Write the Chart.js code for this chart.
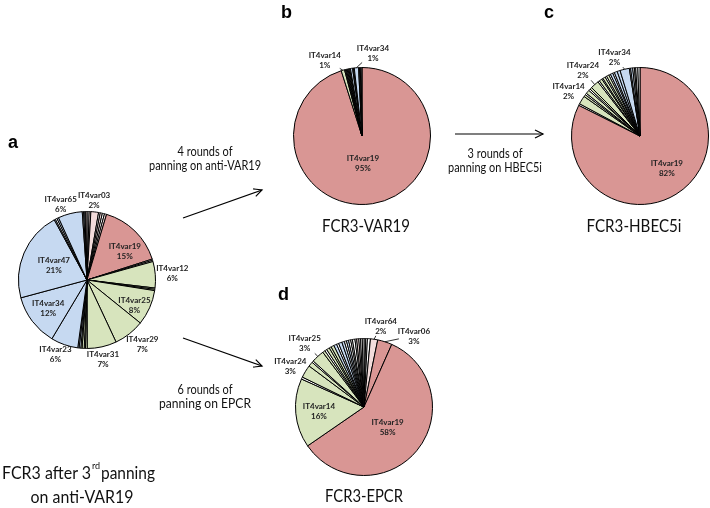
<!DOCTYPE html>
<html><head><meta charset="utf-8">
<script src="https://cdn.jsdelivr.net/npm/chart.js@4.4.1/dist/chart.umd.min.js"></script>
<style>
html,body{margin:0;padding:0;background:#fff;}
#wrap{position:relative;width:710px;height:508px;overflow:hidden;}
canvas{position:absolute;left:0;top:0;}
svg{position:absolute;left:0;top:0;pointer-events:none;}
</style></head>
<body><div id="wrap">
<canvas id="pa" width="710" height="508"></canvas>
<canvas id="pb" width="710" height="508"></canvas>
<canvas id="pc" width="710" height="508"></canvas>
<canvas id="pd" width="710" height="508"></canvas>
<svg width="710" height="508" xmlns="http://www.w3.org/2000/svg">
<defs><marker id="ah" markerWidth="12" markerHeight="12" refX="10" refY="6" orient="auto" markerUnits="userSpaceOnUse"><path d="M2,2 L10,6 L2,10" fill="none" stroke="#000" stroke-width="1.2"/></marker></defs>
<g font-family="'Liberation Sans',Arial,sans-serif" font-weight="bold" font-size="18" fill="#000">
<text x="8" y="148">a</text><text x="281" y="18">b</text><text x="544" y="18">c</text><text x="278" y="300">d</text>
</g>
<g font-family="Lato,'Open Sans',sans-serif" font-size="14" fill="#111" text-anchor="middle">
<text x="205" y="156" textLength="55" lengthAdjust="spacingAndGlyphs">4 rounds of</text>
<text x="205" y="170" textLength="112" lengthAdjust="spacingAndGlyphs">panning on anti-VAR19</text>
<text x="495" y="158" textLength="55" lengthAdjust="spacingAndGlyphs">3 rounds of</text>
<text x="495" y="172" textLength="94" lengthAdjust="spacingAndGlyphs">panning on HBEC5i</text>
<text x="205" y="394" textLength="55" lengthAdjust="spacingAndGlyphs">6 rounds of</text>
<text x="205" y="408" textLength="92" lengthAdjust="spacingAndGlyphs">panning on EPCR</text>
</g>
<g font-family="Lato,'Open Sans',sans-serif" font-size="17.5" fill="#111" text-anchor="middle">
<text x="366" y="232" textLength="88" lengthAdjust="spacingAndGlyphs">FCR3-VAR19</text>
<text x="634" y="232" textLength="95" lengthAdjust="spacingAndGlyphs">FCR3-HBEC5i</text>
<text x="364" y="502" textLength="78" lengthAdjust="spacingAndGlyphs">FCR3-EPCR</text>
<text x="82" y="503" textLength="103" lengthAdjust="spacingAndGlyphs">on anti-VAR19</text>
</g>
<g font-family="Lato,'Open Sans',sans-serif" font-size="17.5" fill="#111">
<text x="2" y="479" textLength="89" lengthAdjust="spacingAndGlyphs">FCR3 after 3</text>
<text x="92" y="469" font-size="9">rd</text>
<text x="101" y="479" textLength="54" lengthAdjust="spacingAndGlyphs">panning</text>
</g>
<g stroke="#000" stroke-width="1.2" fill="none">
<line x1="183" y1="218" x2="262" y2="190" marker-end="url(#ah)"/>
<line x1="183" y1="338" x2="262" y2="366" marker-end="url(#ah)"/>
<line x1="455" y1="134" x2="543" y2="134" marker-end="url(#ah)"/>
</g>
</svg>
</div>
<script>
// ---------- data ----------
const aNames  = ['', '', 'IT4var03', '', '', '', '', 'IT4var19', '', '', 'IT4var12', '', '', 'IT4var25', 'IT4var29', 'IT4var31', '', '', '', '', '', '', 'IT4var23', 'IT4var34', 'IT4var47', '', '', '', 'IT4var65', '', '', '', ''];
const aValues = [0.5, 0.4, 1.8, 0.4, 0.5, 0.5, 0.5, 15.4, 0.3, 0.3, 6.2, 0.3, 0.3, 8.3, 7.2, 6.9, 0.4, 0.3, 0.5, 0.3, 0.4, 0.3, 6.4, 12.2, 21.2, 0.3, 0.4, 0.4, 5.7, 0.3, 0.3, 0.2, 0.3];

const bNames  = ['IT4var19', 'IT4var14', '', '', '', '', '', '', '', '', '', '', 'IT4var34', '', '', '', ''];
const bValues = [95, 0.8, 0.2, 0.2, 0.2, 0.2, 0.2, 0.2, 0.2, 0.5, 0.2, 0.2, 1.0, 0.2, 0.2, 0.2, 0.2];

const cNames  = ['IT4var19', '', 'IT4var14', '', '', '', '', '', 'IT4var24', '', '', '', '', '', '', '', '', '', '', '', 'IT4var34', '', '', '', '', '', ''];
const cValues = [82.4, 0.4, 2.0, 0.5, 0.4, 0.9, 0.4, 0.5, 2.0, 0.4, 0.7, 0.3, 0.6, 0.4, 0.6, 0.4, 0.6, 0.4, 0.7, 0.7, 2.2, 0.3, 0.5, 0.4, 0.3, 0.5, 0.5];

const dNames  = ['', '', '', 'IT4var64', 'IT4var06', 'IT4var19', 'IT4var14', '', 'IT4var24', '', '', 'IT4var25', '', '', '', '', '', '', '', '', '', '', '', '', '', '', '', '', '', '', ''];
const dValues = [0.4, 0.4, 0.7, 1.7, 3.4, 58.4, 16.2, 0.5, 3.0, 1.1, 0.4, 3.0, 0.6, 0.5, 0.7, 0.5, 0.7, 0.7, 0.5, 0.8, 0.6, 0.5, 0.5, 0.5, 0.4, 0.6, 0.4, 0.5, 0.4, 0.4, 0.4];

// ---------- styles (kept apart from the data) ----------
const palette = {R:'#D99694', P:'#F2DCDB', G:'#D7E4BD', B:'#C6D9F1', W:'#FFFFFF'};
const aFill = ['W','P','P','W','P','W','P','R','P','W','G','G','G','G','G','G','G','W','G','G','B','B','B','B','B','B','W','B','B','W','B','W','P'];
const bFill = ['R','G','W','G','W','B','W','G','W','B','W','W','B','W','B','W','W'];
const cFill = ['R','W','G','G','W','G','W','G','G','W','G','W','G','W','G','W','B','W','B','B','B','W','B','W','W','W','W'];
const dFill = ['W','W','W','P','R','R','G','W','G','G','W','G','G','W','G','G','G','B','W','B','B','W','B','W','W','W','W','P','W','W','W'];

const aLabelPos = [
  {name:'IT4var03', ang:5, rad:1.18},
  {name:'IT4var65', ang:341, rad:1.18},
  {name:'IT4var19', ang:52, rad:0.70},
  {name:'IT4var12', ang:85, rad:1.25},
  {name:'IT4var25', ang:117.5, rad:0.78},
  {name:'IT4var29', ang:139, rad:1.23},
  {name:'IT4var31', ang:168.5, rad:1.17},
  {name:'IT4var23', ang:203, rad:1.18},
  {name:'IT4var34', ang:234, rad:0.70},
  {name:'IT4var47', ang:294, rad:0.53}
];
const bLabelPos = [
  {name:'IT4var19', ang:178, rad:0.40},
  {name:'IT4var14', ang:334, rad:1.24, leader:true},
  {name:'IT4var34', ang:7.5, rad:1.23, leader:true}
];
const cLabelPos = [
  {name:'IT4var19', ang:140, rad:0.61},
  {name:'IT4var34', ang:342, rad:1.21, leader:true},
  {name:'IT4var24', ang:319, rad:1.27, leader:true},
  {name:'IT4var14', ang:302, rad:1.23, leader:true}
];
const dLabelPos = [
  {name:'IT4var19', ang:130, rad:0.45},
  {name:'IT4var14', ang:265, rad:0.66},
  {name:'IT4var24', ang:299, rad:1.23, leader:true},
  {name:'IT4var25', ang:317, rad:1.27, leader:true},
  {name:'IT4var64', ang:11.7, rad:1.21, leader:true},
  {name:'IT4var06', ang:35, rad:1.27, leader:true}
];

const W = 710, H = 508, R = 69;

const sliceLabels = {
  id: 'sliceLabels',
  afterDatasetsDraw(chart, args, opts) {
    const ctx = chart.ctx;
    const meta = chart.getDatasetMeta(0);
    const ds = chart.data.datasets[0];
    const names = chart.data.labels;
    ctx.save();
    ctx.font = 'bold 8px Lato, "Open Sans", sans-serif';
    ctx.fillStyle = '#222';
    ctx.textAlign = 'center';
    ctx.textBaseline = 'middle';
    ctx.strokeStyle = '#000';
    ctx.lineWidth = 0.8;
    (opts.items || []).forEach(it => {
      const i = names.indexOf(it.name);
      if (i < 0) return;
      const p = meta.data[i].getProps(['x','y','outerRadius','startAngle','endAngle'], true);
      const a = (it.ang - 90) * Math.PI / 180;
      const lx = p.x + Math.cos(a) * p.outerRadius * it.rad;
      const ly = p.y + Math.sin(a) * p.outerRadius * it.rad;
      ctx.fillText(it.name, lx, ly - 4.5);
      ctx.fillText(Math.round(ds.data[i]) + '%', lx, ly + 5.5);
      if (it.leader) {
        const mid = (p.startAngle + p.endAngle) / 2;
        const ex = p.x + Math.cos(mid) * p.outerRadius;
        const ey = p.y + Math.sin(mid) * p.outerRadius;
        const dx = ex - lx, dy = ey - ly;
        const t = Math.min(15 / Math.max(Math.abs(dx), 1e-6), 10 / Math.max(Math.abs(dy), 1e-6));
        if (t < 1) {
          ctx.beginPath();
          ctx.moveTo(lx + dx * t, ly + dy * t);
          ctx.lineTo(ex, ey);
          ctx.stroke();
        }
      }
    });
    ctx.restore();
  }
};

function makePie(id, names, values, fill, labelPos, cx, cy) {
  new Chart(document.getElementById(id), {
    type: 'pie',
    data: {
      labels: names,
      datasets: [{
        data: values,
        backgroundColor: fill.map(k => palette[k]),
        borderColor: '#000',
        borderWidth: 1
      }]
    },
    options: {
      responsive: false,
      animation: false,
      events: [],
      layout: { padding: { left: cx - R, right: W - cx - R, top: cy - R, bottom: H - cy - R } },
      plugins: {
        legend: { display: false },
        tooltip: { enabled: false },
        sliceLabels: { items: labelPos }
      }
    },
    plugins: [sliceLabels]
  });
}

makePie('pa', aNames, aValues, aFill, aLabelPos, 87, 280);
makePie('pb', bNames, bValues, bFill, bLabelPos, 362, 136);
makePie('pc', cNames, cValues, cFill, cLabelPos, 640, 136);
makePie('pd', dNames, dValues, dFill, dLabelPos, 364, 407);
</script>
</body></html>
